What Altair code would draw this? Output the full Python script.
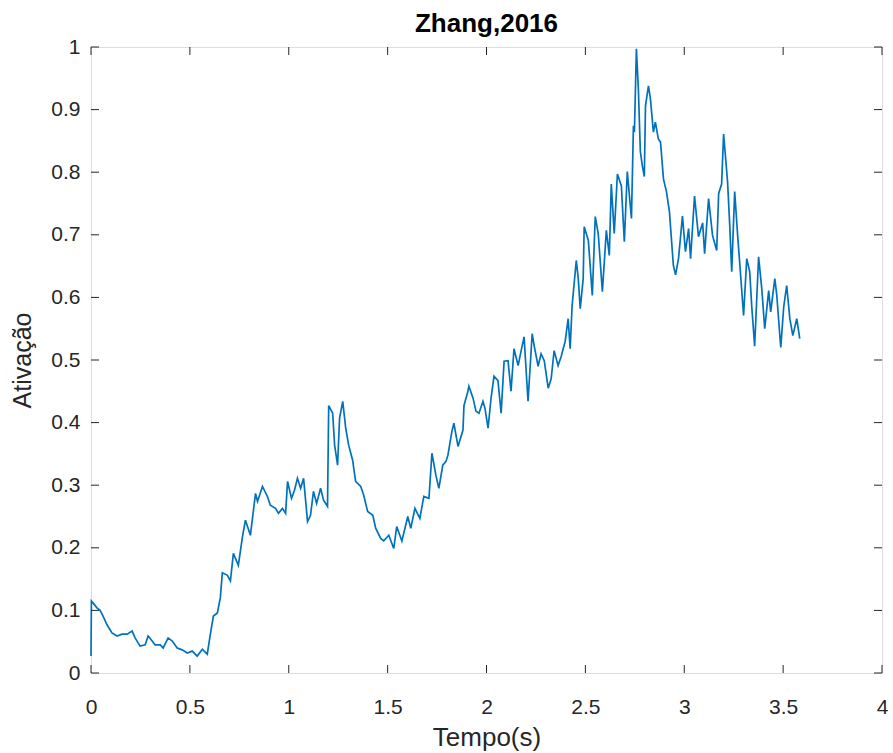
import altair as alt
import pandas as pd

# Time (s) and activation values
tempo = [
    0.000, 0.002, 0.010, 0.030, 0.046, 0.061, 0.081, 0.106, 0.132, 0.157,
    0.183, 0.208, 0.223, 0.248, 0.274, 0.289, 0.309, 0.324, 0.350, 0.365,
    0.390, 0.411, 0.436, 0.461, 0.487, 0.512, 0.537, 0.563, 0.588, 0.603,
    0.619, 0.639, 0.654, 0.664, 0.690, 0.705, 0.720, 0.745, 0.766, 0.781,
    0.806, 0.832, 0.842, 0.867, 0.892, 0.907, 0.933, 0.948, 0.968, 0.984,
    0.994, 1.014, 1.029, 1.044, 1.060, 1.075, 1.095, 1.110, 1.125, 1.141,
    1.161, 1.176, 1.196, 1.202, 1.222, 1.232, 1.247, 1.257, 1.273, 1.288,
    1.303, 1.323, 1.338, 1.364, 1.379, 1.399, 1.425, 1.440, 1.465, 1.480,
    1.506, 1.531, 1.546, 1.572, 1.602, 1.617, 1.638, 1.663, 1.683, 1.709,
    1.724, 1.744, 1.759, 1.779, 1.795, 1.805, 1.825, 1.835, 1.856, 1.881,
    1.886, 1.906, 1.911, 1.932, 1.947, 1.962, 1.982, 1.992, 2.008, 2.023,
    2.038, 2.058, 2.074, 2.089, 2.109, 2.124, 2.139, 2.160, 2.170, 2.190,
    2.210, 2.231, 2.241, 2.261, 2.276, 2.292, 2.312, 2.327, 2.342, 2.362,
    2.378, 2.398, 2.413, 2.423, 2.433, 2.454, 2.464, 2.474, 2.489, 2.494,
    2.515, 2.535, 2.550, 2.565, 2.586, 2.606, 2.621, 2.631, 2.646, 2.662,
    2.682, 2.697, 2.712, 2.733, 2.743, 2.748, 2.758, 2.768, 2.778, 2.788,
    2.798, 2.804, 2.819, 2.829, 2.844, 2.854, 2.869, 2.880, 2.895, 2.910,
    2.925, 2.945, 2.956, 2.971, 2.991, 3.006, 3.022, 3.032, 3.052, 3.072,
    3.093, 3.103, 3.123, 3.143, 3.164, 3.174, 3.189, 3.199, 3.219, 3.230,
    3.240, 3.255, 3.270, 3.280, 3.300, 3.316, 3.331, 3.341, 3.356, 3.376,
    3.392, 3.407, 3.427, 3.437, 3.458, 3.468, 3.488, 3.503, 3.518, 3.534,
    3.549, 3.569, 3.584,
]
ativacao = [
    0.027, 0.115, 0.112, 0.104, 0.100, 0.091, 0.077, 0.064, 0.059, 0.062,
    0.062, 0.067, 0.056, 0.043, 0.045, 0.059, 0.051, 0.045, 0.045, 0.040,
    0.056, 0.051, 0.040, 0.037, 0.032, 0.035, 0.027, 0.038, 0.030, 0.061,
    0.091, 0.096, 0.120, 0.160, 0.156, 0.147, 0.191, 0.172, 0.218, 0.244,
    0.220, 0.287, 0.274, 0.298, 0.282, 0.268, 0.263, 0.255, 0.263, 0.255,
    0.306, 0.279, 0.292, 0.311, 0.295, 0.311, 0.242, 0.252, 0.290, 0.271,
    0.295, 0.276, 0.266, 0.427, 0.415, 0.364, 0.332, 0.407, 0.434, 0.391,
    0.364, 0.340, 0.306, 0.298, 0.284, 0.258, 0.252, 0.231, 0.215, 0.211,
    0.220, 0.199, 0.234, 0.211, 0.250, 0.231, 0.263, 0.247, 0.282, 0.279,
    0.351, 0.316, 0.295, 0.332, 0.338, 0.348, 0.386, 0.399, 0.362, 0.388,
    0.427, 0.450, 0.458, 0.439, 0.418, 0.415, 0.434, 0.423, 0.391, 0.439,
    0.474, 0.467, 0.415, 0.498, 0.499, 0.450, 0.518, 0.491, 0.507, 0.537,
    0.434, 0.542, 0.523, 0.490, 0.510, 0.499, 0.455, 0.470, 0.515, 0.491,
    0.506, 0.530, 0.566, 0.518, 0.587, 0.659, 0.630, 0.582, 0.630, 0.713,
    0.691, 0.603, 0.729, 0.702, 0.609, 0.707, 0.667, 0.781, 0.702, 0.797,
    0.778, 0.689, 0.801, 0.726, 0.874, 0.864, 0.997, 0.933, 0.833, 0.810,
    0.793, 0.906, 0.938, 0.917, 0.864, 0.880, 0.853, 0.848, 0.789, 0.769,
    0.737, 0.651, 0.636, 0.662, 0.730, 0.673, 0.710, 0.662, 0.762, 0.697,
    0.719, 0.670, 0.758, 0.699, 0.675, 0.766, 0.781, 0.861, 0.785, 0.715,
    0.641, 0.769, 0.699, 0.657, 0.571, 0.662, 0.641, 0.587, 0.522, 0.665,
    0.614, 0.550, 0.611, 0.577, 0.630, 0.603, 0.520, 0.585, 0.619, 0.566,
    0.539, 0.566, 0.534,
]

x_ticks = [0, 0.5, 1, 1.5, 2, 2.5, 3, 3.5, 4]
y_ticks = [0, 0.1, 0.2, 0.3, 0.4, 0.5, 0.6, 0.7, 0.8, 0.9, 1]

W, H = 791, 626
TICK = 8
FONT = "Liberation Sans, Arial, sans-serif"
TXT = "#262626"

df = pd.DataFrame({"t": tempo, "v": ativacao})
dx = pd.DataFrame({"t": x_ticks})
dy = pd.DataFrame({"v": y_ticks})

xscale = alt.Scale(domain=[0, 4], nice=False, zero=False)
yscale = alt.Scale(domain=[0, 1], nice=False, zero=False)

xaxis = alt.Axis(values=x_ticks, format="~g", title="Tempo(s)", grid=False,
                 domain=False, tickSize=0, labelPadding=23, labelFontSize=21,
                 labelFlush=False, labelFont=FONT, labelColor=TXT,
                 titleFont=FONT, titleFontSize=26, titleFontWeight="normal",
                 titleColor=TXT, titlePadding=7)
yaxis = alt.Axis(values=y_ticks, format="~g", title="Ativação", grid=False,
                 domain=False, tickSize=0, labelPadding=11, labelFontSize=21,
                 labelFlush=False, labelFont=FONT, labelColor=TXT,
                 titleFont=FONT, titleFontSize=25, titleFontWeight="normal",
                 titleColor=TXT, titlePadding=15)

X = alt.X("t:Q", scale=xscale, axis=xaxis)
Y = alt.Y("v:Q", scale=yscale, axis=yaxis)

line = alt.Chart(df).mark_line(color="#0072BD", strokeWidth=1.7).encode(x=X, y=Y)

tick_style = dict(color="#262626", strokeWidth=1)
bx = alt.Chart(dx).mark_rule(**tick_style).encode(
    x=X, y=alt.value(H), y2=alt.value(H - TICK))
tx = alt.Chart(dx).mark_rule(**tick_style).encode(
    x=X, y=alt.value(0), y2=alt.value(TICK))
ly = alt.Chart(dy).mark_rule(**tick_style).encode(
    y=Y, x=alt.value(0), x2=alt.value(TICK))
ry = alt.Chart(dy).mark_rule(**tick_style).encode(
    y=Y, x=alt.value(W), x2=alt.value(W - TICK))

chart = alt.layer(line, bx, tx, ly, ry).properties(
    width=W, height=H,
    title=alt.TitleParams("Zhang,2016", font=FONT, fontSize=26, fontWeight="bold",
                          color="#000000", offset=-1, anchor="middle"),
    autosize=alt.AutoSizeParams(type="none"),
    padding={"left": 91, "top": 47, "right": 11, "bottom": 80},
).configure_view(stroke="#8a8a8a", strokeWidth=2).configure(background="white")

chart.save("out.html", embed_options={"renderer": "svg", "actions": False})
